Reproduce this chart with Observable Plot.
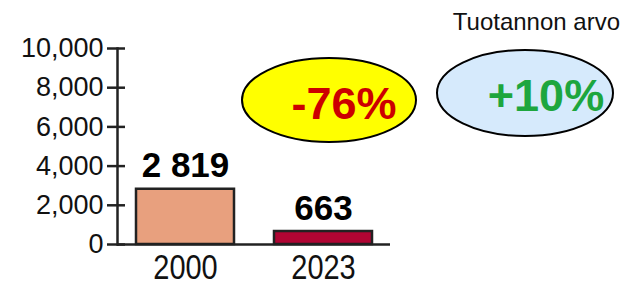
<!DOCTYPE html>
<html>
<head>
<meta charset="utf-8">
<script src="https://cdn.jsdelivr.net/npm/d3@7"></script>
<script src="https://cdn.jsdelivr.net/npm/@observablehq/plot@0.6"></script>
<style>
  html, body { margin: 0; padding: 0; background: #fff; }
  #chart { width: 627px; height: 284px; overflow: hidden; }
</style>
</head>
<body>
<div id="chart"></div>
<script>
// Data
const years = ["2000", "2023"];
const values = [2819, 663];
const valueLabels = ["2 819", "663"];
const barColors = ["#e8a07e", "#b00533"];
const yTicks = [0, 2000, 4000, 6000, 8000, 10000];
const title = "Tuotannon arvo";
const changeLabels = ["-76%", "+10%"];

const data = years.map((y, i) => ({year: y, value: values[i], label: valueLabels[i], color: barColors[i]}));

const chart = Plot.plot({
  width: 627,
  height: 284,
  marginLeft: 117,
  marginRight: 237,
  marginTop: 48,
  marginBottom: 40,
  style: {fontFamily: "Liberation Sans, Arial, sans-serif", background: "#fff", color: "#111"},
  x: {domain: years, paddingInner: 0.29, paddingOuter: 0.134, label: null},
  y: {domain: [0, 10000], label: null},
  marks: [
    Plot.barY(data, {x: "year", y: "value", fill: "color", stroke: "#222", strokeWidth: 2.5}),
    Plot.ruleY([0], {stroke: "#222", strokeWidth: 2.5}),
    Plot.frame({anchor: "left", stroke: "#222", strokeWidth: 2.5}),
    Plot.axisY({ticks: yTicks, tickFormat: d3.format(","), tickSize: 18, dx: 8, tickPadding: 4, fontSize: 27, strokeWidth: 2.5, stroke: "#222", fill: "#111"}),
    Plot.axisX({tickSize: 0, tickPadding: 9, fontSize: 29, fill: "#111"}),
    Plot.text(data, {x: "year", y: "value", text: "label", dy: -12, lineAnchor: "bottom", fontSize: 35, fontWeight: "bold", fill: "#000"})
  ]
});

document.getElementById("chart").appendChild(chart);

// Stretch the x tick labels vertically (reference uses tall, narrow digits)
const xg = chart.querySelector('g[aria-label="x-axis tick label"]');
if (xg) {
  const wrap = document.createElementNS("http://www.w3.org/2000/svg", "g");
  wrap.setAttribute("transform", "translate(0,253) scale(1,1.22) translate(0,-253)");
  xg.parentNode.insertBefore(wrap, xg);
  wrap.appendChild(xg);
}

// Annotations
const svg = d3.select(chart);
const ann = [
  {cx: 329, cy: 100, rx: 87, ry: 42, fill: "#ffff00", text: changeLabels[0], tx: 344, ty: 119, color: "#cc0000"},
  {cx: 525, cy: 93, rx: 88, ry: 43, fill: "#d6eafc", text: changeLabels[1], tx: 546, ty: 111, color: "#1da63e"}
];
ann.forEach(a => {
  svg.append("ellipse").attr("cx", a.cx).attr("cy", a.cy).attr("rx", a.rx).attr("ry", a.ry)
    .attr("fill", a.fill).attr("stroke", "#000").attr("stroke-width", 2);
  svg.append("text").attr("x", a.tx).attr("y", a.ty).attr("text-anchor", "middle")
    .attr("font-size", 45).attr("font-weight", "bold").attr("fill", a.color)
    .attr("font-family", "Liberation Sans, Arial, sans-serif").text(a.text);
});
svg.append("text").attr("x", 620).attr("y", 30).attr("text-anchor", "end")
  .attr("font-size", 24).attr("fill", "#111").attr("font-family", "Liberation Sans, Arial, sans-serif").text(title);
</script>
</body>
</html>
